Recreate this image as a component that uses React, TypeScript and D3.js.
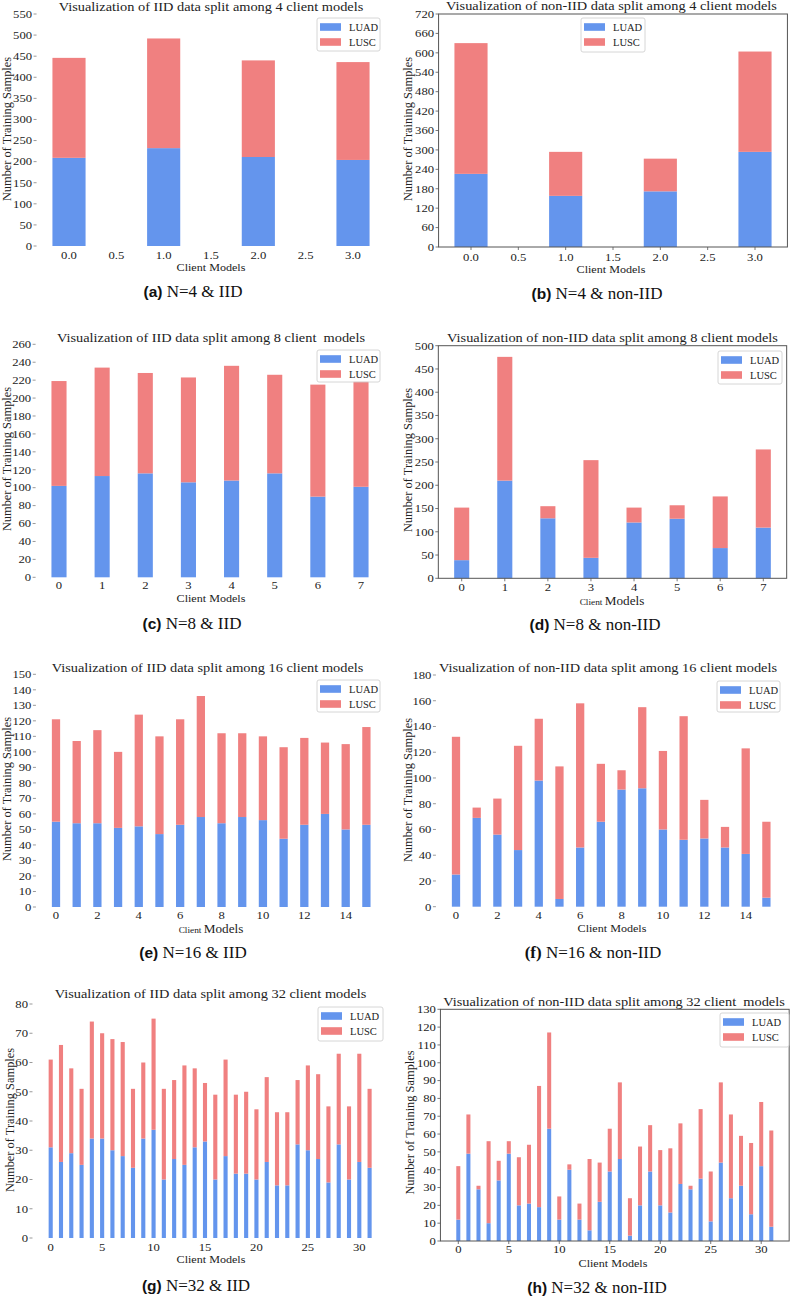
import React from "react";
import * as d3 from "d3";

const SERIF = "'Liberation Serif', 'Times New Roman', serif";
const SANS = "'Liberation Sans', Arial, sans-serif";
const BLUE = "#6495ED";
const RED = "#F08080";
const SERIES = ["LUAD", "LUSC"];

// ---------- data ----------
const clients4 = [0, 1, 2, 3];
const clients8 = [0, 1, 2, 3, 4, 5, 6, 7];
const clients16 = [0, 1, 2, 3, 4, 5, 6, 7, 8, 9, 10, 11, 12, 13, 14, 15];
const clients32 = [0, 1, 2, 3, 4, 5, 6, 7, 8, 9, 10, 11, 12, 13, 14, 15, 16, 17, 18, 19, 20, 21, 22, 23, 24, 25, 26, 27, 28, 29, 30, 31];

const luadA = [209, 232, 211, 204];
const luscA = [237, 260, 229, 232];
const luadB = [226, 158, 172, 294];
const luscB = [404, 136, 101, 310];
const luadC = [102, 113, 116, 106, 108, 116, 90, 101];
const luscC = [117, 121, 112, 117, 128, 110, 125, 118];
const luadD = [39, 210, 129, 44, 120, 128, 65, 109];
const luscD = [113, 266, 26, 210, 32, 29, 111, 168];
const luadE = [55, 54, 54, 51, 52, 47, 53, 58, 54, 58, 56, 44, 53, 60, 50, 53];
const luscE = [66, 53, 60, 49, 72, 63, 68, 78, 58, 54, 54, 59, 56, 46, 55, 63];
const luadF = [25, 69, 56, 44, 98, 6, 46, 66, 91, 92, 60, 52, 53, 46, 41, 7];
const luscF = [107, 8, 28, 81, 48, 103, 112, 45, 15, 63, 61, 96, 30, 16, 82, 59];
const luadG = [31, 26, 29, 25, 34, 34, 30, 28, 24, 34, 37, 20, 27, 25, 31, 33, 20, 28, 22, 22, 20, 26, 18, 18, 32, 30, 27, 19, 32, 20, 26, 24];
const luscG = [30, 40, 29, 26, 40, 36, 38, 39, 27, 26, 38, 31, 27, 34, 27, 20, 29, 33, 27, 28, 24, 29, 25, 25, 22, 29, 29, 26, 31, 25, 37, 27];
const luadH = [12, 49, 29, 10, 34, 49, 20, 21, 19, 63, 12, 40, 12, 6, 22, 39, 46, 3, 20, 39, 20, 16, 32, 29, 35, 11, 44, 24, 31, 15, 42, 8];
const luscH = [30, 22, 2, 46, 11, 7, 27, 33, 68, 54, 13, 3, 9, 40, 22, 24, 43, 21, 33, 26, 31, 36, 34, 2, 39, 28, 45, 47, 28, 40, 36, 54];

const xTicks4 = [0, 0.5, 1, 1.5, 2, 2.5, 3];
const xTicks8 = [0, 1, 2, 3, 4, 5, 6, 7];
const xTicks16 = [0, 2, 4, 6, 8, 10, 12, 14];
const xTicks32 = [0, 5, 10, 15, 20, 25, 30];

const titles = [
  "Visualization of IID data split among 4 client models",
  "Visualization of non-IID data split among 4 client models",
  "Visualization of IID data split among 8 client  models",
  "Visualization of non-IID data split among 8 client models",
  "Visualization of IID data split among 16 client models",
  "Visualization of non-IID data split among 16 client models",
  "Visualization of IID data split among 32 client models",
  "Visualization of non-IID data split among 32 client  models",
];
const captionTags = ["(a)", "(b)", "(c)", "(d)", "(e)", "(f)", "(g)", "(h)"];
const captionTexts = [" N=4 & IID", " N=4 & non-IID", " N=8 & IID", " N=8 & non-IID", " N=16 & IID", " N=16 & non-IID", " N=32 & IID", " N=32 & non-IID"];

// ---------- layout ----------
type Cfg = {
  clients: number[]; luad: number[]; lusc: number[]; xTicks: number[]; fmt: (v: number) => string;
  xRef: number; px0: number; px1: number; py0: number; py1: number; yMax: number; yStep: number;
  barW: number; framed: boolean; title: number[]; xTickY: number; xLabel: number[]; smallClient: boolean;
  yLabel: number[]; caption: number[]; tagSerif: boolean; legend: number[]; idx: number;
};

const f1 = (v: number) => v.toFixed(1);
const f0 = (v: number) => String(v);

const panels: Cfg[] = [
  { idx: 0, clients: clients4, luad: luadA, lusc: luscA, xTicks: xTicks4, fmt: f1, xRef: 3, px0: 69, px1: 353, py0: 246, py1: 14, yMax: 550, yStep: 50, barW: 0.35, framed: false, title: [211, 11], xTickY: 258.5, xLabel: [211, 271], smallClient: false, yLabel: [7, 129], caption: [193, 297], tagSerif: false, legend: [317, 18, 63, 33] },
  { idx: 1, clients: clients4, luad: luadB, lusc: luscB, xTicks: xTicks4, fmt: f1, xRef: 3, px0: 471, px1: 755, py0: 247, py1: 14, yMax: 720, yStep: 60, barW: 0.35, framed: true, title: [611.5, 10], xTickY: 260.5, xLabel: [611, 273], smallClient: false, yLabel: [408.3, 129], caption: [597, 299], tagSerif: false, legend: [581, 18, 64, 34] },
  { idx: 2, clients: clients8, luad: luadC, lusc: luscC, xTicks: xTicks8, fmt: f0, xRef: 7, px0: 59, px1: 361, py0: 577.3, py1: 344.3, yMax: 260, yStep: 20, barW: 0.35, framed: false, title: [211, 342], xTickY: 588.5, xLabel: [211, 602], smallClient: false, yLabel: [7, 459], caption: [192, 629], tagSerif: false, legend: [317, 350, 63, 32] },
  { idx: 3, clients: clients8, luad: luadD, lusc: luscD, xTicks: xTicks8, fmt: f0, xRef: 7, px0: 461.7, px1: 763.3, py0: 578.3, py1: 345.7, yMax: 500, yStep: 50, barW: 0.35, framed: true, title: [612.5, 342], xTickY: 591, xLabel: [612, 604.5], smallClient: true, yLabel: [407.7, 460], caption: [595, 630], tagSerif: false, legend: [718, 351, 64, 33] },
  { idx: 4, clients: clients16, luad: luadE, lusc: luscE, xTicks: xTicks16, fmt: f0, xRef: 14, px0: 56, px1: 345.7, py0: 907, py1: 674.3, yMax: 150, yStep: 10, barW: 0.4, framed: false, title: [207.5, 672], xTickY: 919, xLabel: [211, 932.5], smallClient: true, yLabel: [7, 789], caption: [193, 958], tagSerif: false, legend: [317, 680, 63, 32] },
  { idx: 5, clients: clients16, luad: luadF, lusc: luscF, xTicks: xTicks16, fmt: f0, xRef: 14, px0: 456, px1: 745.7, py0: 906.7, py1: 675, yMax: 180, yStep: 20, barW: 0.4, framed: false, title: [608, 671.5], xTickY: 919, xLabel: [612, 932], smallClient: false, yLabel: [407.7, 790], caption: [593, 958], tagSerif: true, legend: [717, 681, 63, 31] },
  { idx: 6, clients: clients32, luad: luadG, lusc: luscG, xTicks: xTicks32, fmt: f0, xRef: 30, px0: 50.7, px1: 359.3, py0: 1238, py1: 1004, yMax: 80, yStep: 10, barW: 0.4, framed: false, title: [210.5, 998], xTickY: 1251, xLabel: [211, 1263], smallClient: false, yLabel: [10, 1120], caption: [196, 1291], tagSerif: false, legend: [318, 1007, 65, 34] },
  { idx: 7, clients: clients32, luad: luadH, lusc: luscH, xTicks: xTicks32, fmt: f0, xRef: 31, px0: 458.3, px1: 771.3, py0: 1241, py1: 1009.3, yMax: 130, yStep: 10, barW: 0.4, framed: true, title: [614, 1005.5], xTickY: 1253, xLabel: [613, 1267], smallClient: false, yLabel: [410, 1122.5], caption: [597, 1293], tagSerif: false, legend: [720, 1013, 69, 34] },
];

const TITLE_SIZE = 11.5, TITLE_SX = 1.25;
const TICK_SIZE = 11, TICK_SX = 1.15;
const LABEL_SIZE = 11, LABEL_SX = 1.1;

function SText(props: { x: number; y: number; sx: number; size: number; anchor?: string; children: any; fill?: string }) {
  const { x, y, sx, size, anchor = "middle", children, fill = "#222" } = props;
  return (
    <text transform={`translate(${x},${y}) scale(${sx},1)`} textAnchor={anchor} fontFamily={SERIF} fontSize={size} fill={fill} style={{ whiteSpace: "pre" }}>
      {children}
    </text>
  );
}

function Panel({ cfg }: { cfg: Cfg }) {
  const x = d3.scaleLinear().domain([0, cfg.xRef]).range([cfg.px0, cfg.px1]);
  const y = d3.scaleLinear().domain([0, cfg.yMax]).range([cfg.py0, cfg.py1]);
  const n = cfg.clients.length;
  const bw = cfg.barW;
  const m = 0.05 * (n - 1 + bw);
  const xl = x(-bw / 2 - m);
  const xr = x(n - 1 + bw / 2 + m);
  const unit = x(1) - x(0);
  const rows = cfg.clients.map((c, i) => ({ client: c, LUAD: cfg.luad[i], LUSC: cfg.lusc[i] }));
  const stacked = d3.stack<any>().keys(SERIES)(rows);
  const yTicks = d3.range(0, cfg.yMax + cfg.yStep / 2, cfg.yStep);
  const colors = [BLUE, RED];
  const [lx, ly, lw, lh] = cfg.legend;
  const axisColor = "#555";
  return (
    <g>
      {stacked.map((layer, si) => (
        <g key={si} fill={colors[si]}>
          {layer.map((d, i) => (
            <rect key={i} x={x(rows[i].client) - (bw * unit) / 2} width={bw * unit} y={y(d[1])} height={y(d[0]) - y(d[1])} />
          ))}
        </g>
      ))}
      {cfg.framed && <rect x={xl} y={cfg.py1} width={xr - xl} height={cfg.py0 - cfg.py1} fill="none" stroke={axisColor} strokeWidth={1} />}
      {yTicks.map((t) => (
        <g key={t}>
          <line x1={xl - 3} x2={xl} y1={y(t)} y2={y(t)} stroke={axisColor} strokeWidth={cfg.framed ? 0.8 : 0.6} />
          <SText x={xl - 4.5} y={y(t) + 3.8} sx={TICK_SX} size={TICK_SIZE} anchor="end">{String(t)}</SText>
        </g>
      ))}
      {cfg.xTicks.map((t) => (
        <g key={t}>
          {cfg.framed && <line x1={x(t)} x2={x(t)} y1={cfg.py0} y2={cfg.py0 + 3} stroke={axisColor} strokeWidth={0.8} />}
          <SText x={x(t)} y={cfg.xTickY} sx={TICK_SX} size={TICK_SIZE}>{cfg.fmt(t)}</SText>
        </g>
      ))}
      <SText x={cfg.title[0]} y={cfg.title[1]} sx={TITLE_SX} size={TITLE_SIZE}>{titles[cfg.idx]}</SText>
      <text transform={`translate(${cfg.xLabel[0]},${cfg.xLabel[1]}) scale(${LABEL_SX},1)`} textAnchor="middle" fontFamily={SERIF} fontSize={LABEL_SIZE} fill="#222">
        {cfg.smallClient ? (
          <>
            <tspan fontSize={8.5}>Client </tspan>
            <tspan fontSize={12}>Models</tspan>
          </>
        ) : (
          "Client Models"
        )}
      </text>
      <text transform={`translate(${cfg.yLabel[0]},${cfg.yLabel[1]}) rotate(-90)`} textAnchor="middle" dominantBaseline="central" fontFamily={SERIF} fontSize={12.4} fill="#222">
        Number of Training Samples
      </text>
      <g>
        <rect x={lx} y={ly} width={lw} height={lh} rx={2} fill="white" fillOpacity={0.85} stroke="#cccccc" strokeWidth={0.8} />
        {SERIES.map((s, i) => (
          <g key={s}>
            <rect x={lx + 3} y={ly + 9 + i * 15 - 3.8} width={21} height={7.6} fill={colors[i]} />
            <text x={lx + 32} y={ly + 9 + i * 15} dominantBaseline="central" fontFamily={SERIF} fontSize={10.5} fill="#222">{s}</text>
          </g>
        ))}
      </g>
      <text x={cfg.caption[0]} y={cfg.caption[1]} textAnchor="middle" fill="#111" style={{ whiteSpace: "pre" }}>
        <tspan fontFamily={cfg.tagSerif ? SERIF : SANS} fontWeight="bold" fontSize={cfg.tagSerif ? 17 : 15.5}>{captionTags[cfg.idx]}</tspan>
        <tspan fontFamily={SERIF} fontSize={17}>{captionTexts[cfg.idx]}</tspan>
      </text>
    </g>
  );
}

export default function App() {
  return (
    <svg width={790} height={1299} viewBox="0 0 790 1299" style={{ position: "absolute", left: 0, top: 0, background: "white" }}>
      <rect x={0} y={0} width={790} height={1299} fill="white" />
      {panels.map((p) => (
        <Panel key={p.idx} cfg={p} />
      ))}
    </svg>
  );
}
